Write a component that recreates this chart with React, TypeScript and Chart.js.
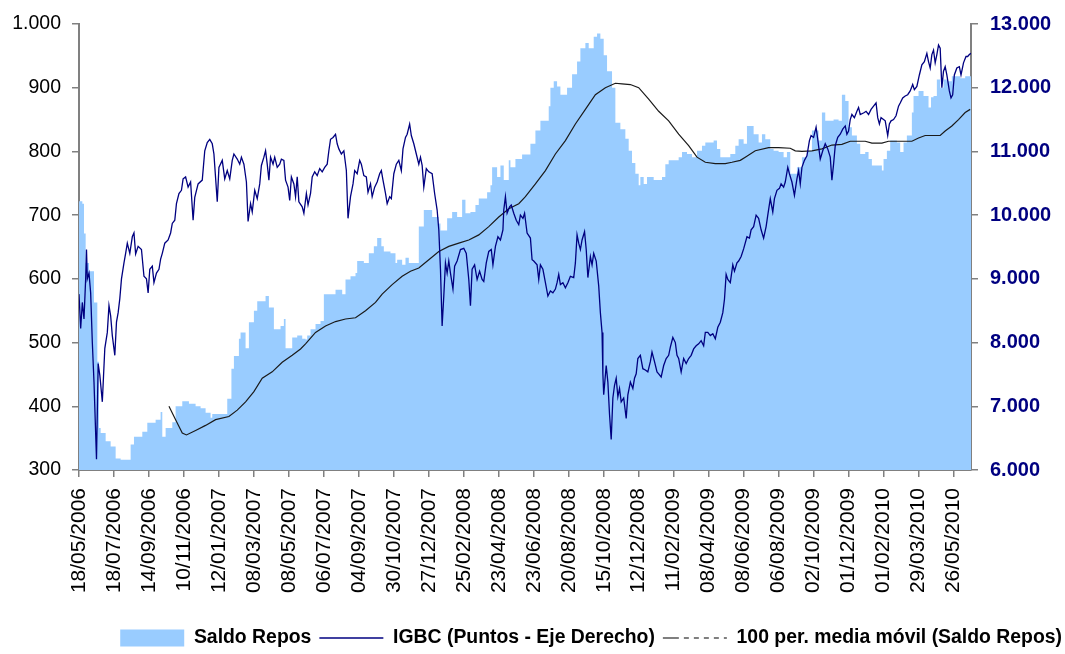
import React, { useEffect, useRef } from 'react';
import { Chart, registerables } from 'chart.js';

Chart.register(...registerables);

// X axis: trading-session index; a date label every 42 sessions
const xTickLabels = [
  '18/05/2006', '18/07/2006', '14/09/2006', '10/11/2006', '12/01/2007', '08/03/2007',
  '08/05/2007', '06/07/2007', '04/09/2007', '30/10/2007', '27/12/2007', '25/02/2008',
  '23/04/2008', '23/06/2008', '20/08/2008', '15/10/2008', '12/12/2008', '11/02/2009',
  '08/04/2009', '08/06/2009', '06/08/2009', '02/10/2009', '01/12/2009', '01/02/2010',
  '29/03/2010', '26/05/2010',
];
const SESSIONS_PER_LABEL = 42;
const LAST_SESSION = 1071;

// Saldo Repos (left axis) – [session, value], each value held until the next session listed
const reposSeries: [number, number][] = [
  [0, 722], [4, 718], [6, 671], [8, 625], [12, 612], [18, 563], [22, 470], [24, 366], [26, 358], [32, 345],
  [38, 337], [44, 318], [50, 316], [62, 340], [66, 352], [76, 360], [82, 374], [92, 379], [98, 391], [100, 352],
  [104, 366], [112, 375], [116, 400], [124, 408], [132, 404], [140, 400], [146, 397], [152, 390], [158, 382], [160, 388],
  [172, 388], [178, 412], [183, 459], [186, 479], [192, 506], [194, 516], [200, 491], [204, 532], [210, 550], [214, 565],
  [224, 573], [228, 555], [234, 521], [242, 526], [246, 537], [248, 491], [256, 508], [262, 511], [268, 506], [272, 505],
  [274, 511], [278, 521], [284, 529], [290, 534], [294, 576], [308, 583], [316, 576], [320, 599], [326, 604], [332, 609],
  [334, 628], [342, 625], [348, 640], [354, 651], [358, 664], [363, 651], [366, 643], [374, 640], [380, 625], [382, 630],
  [388, 622], [392, 633], [396, 625], [408, 682], [414, 708], [424, 697], [432, 687], [434, 676], [442, 695], [448, 705],
  [454, 697], [460, 724], [464, 703], [470, 705], [476, 716], [480, 726], [490, 736], [494, 747], [496, 775], [502, 760],
  [506, 778], [510, 755], [516, 786], [518, 775], [524, 788], [532, 795], [542, 812], [548, 833], [554, 848], [564, 871],
  [566, 900], [570, 910], [574, 902], [578, 889], [586, 900], [592, 921], [598, 941], [602, 962], [608, 970], [612, 962],
  [618, 980], [622, 985], [626, 977], [630, 951], [634, 926], [640, 900], [644, 845], [650, 835], [656, 820], [660, 801],
  [664, 782], [668, 765], [672, 747], [674, 760], [678, 749], [682, 760], [690, 755], [700, 760], [704, 780], [708, 786],
  [720, 791], [724, 799], [730, 796], [736, 791], [742, 801], [748, 809], [752, 814], [762, 817], [766, 804], [770, 791],
  [782, 796], [788, 809], [792, 819], [798, 812], [802, 840], [810, 827], [816, 814], [820, 827], [824, 819], [830, 804],
  [834, 801], [840, 799], [846, 791], [850, 799], [854, 765], [862, 775], [868, 791], [874, 801], [880, 833], [888, 817],
  [892, 861], [896, 848], [906, 850], [912, 848], [916, 889], [920, 879], [924, 838], [928, 825], [934, 812], [938, 796],
  [944, 799], [948, 788], [952, 778], [964, 770], [966, 788], [970, 801], [974, 817], [982, 814], [986, 799], [990, 814],
  [994, 825], [1000, 861], [1002, 887], [1008, 895], [1014, 887], [1020, 869], [1023, 885], [1026, 887], [1030, 913], [1034, 900],
  [1038, 913], [1042, 910], [1048, 918], [1058, 915], [1064, 918], [1071, 918],
];

// IGBC (right axis) – [session, points]
const igbcSeries: [number, number][] = [
  [0, 8760], [2, 8220], [4, 8630], [6, 8370], [8, 9000], [9, 9460], [10, 9000], [12, 9090], [14, 8780], [16, 8000],
  [18, 7380], [21, 6170], [23, 7670], [25, 7490], [28, 7070], [31, 7910], [34, 8160], [36, 8580], [38, 8420], [40, 8110],
  [43, 7800], [45, 8320], [47, 8470], [49, 8690], [51, 9000], [54, 9250], [56, 9400], [58, 9560], [61, 9400], [64, 9660],
  [66, 9720], [68, 9390], [71, 9510], [75, 9460], [78, 9040], [81, 9000], [83, 8780], [85, 9150], [88, 9200], [90, 8940],
  [93, 9090], [96, 9150], [98, 9310], [100, 9400], [103, 9560], [107, 9610], [110, 9720], [112, 9870], [115, 9920], [117, 10180],
  [120, 10340], [123, 10390], [125, 10570], [128, 10600], [131, 10440], [134, 10520], [137, 9920], [139, 10280], [143, 10490], [148, 10550],
  [151, 11010], [154, 11140], [157, 11190], [160, 11120], [162, 10960], [166, 10210], [168, 10750], [172, 10860], [175, 10570], [178, 10700],
  [181, 10570], [184, 10860], [186, 10960], [190, 10880], [193, 10800], [195, 10910], [198, 10800], [201, 10520], [203, 9900], [206, 10180],
  [208, 10050], [211, 10390], [214, 10260], [217, 10490], [219, 10780], [222, 10910], [224, 11010], [226, 10800], [228, 10550], [230, 10910],
  [233, 10800], [235, 10910], [238, 10750], [241, 10800], [243, 10880], [246, 10860], [248, 10550], [251, 10440], [253, 10230], [255, 10600],
  [258, 10490], [260, 10290], [262, 10600], [264, 10210], [268, 10130], [270, 10030], [273, 10340], [275, 10160], [278, 10340], [280, 10600],
  [283, 10680], [286, 10620], [289, 10730], [292, 10680], [295, 10750], [298, 10800], [300, 11010], [302, 11190], [305, 11220], [308, 11270],
  [310, 11120], [312, 11040], [315, 10960], [318, 11010], [321, 10700], [323, 9950], [326, 10290], [329, 10490], [331, 10700], [334, 10650],
  [337, 10860], [339, 10800], [342, 10620], [345, 10600], [347, 10360], [350, 10490], [352, 10290], [355, 10440], [358, 10520], [361, 10650],
  [363, 10700], [365, 10550], [368, 10340], [370, 10180], [373, 10290], [375, 10260], [378, 10650], [381, 10800], [384, 10860], [387, 10700],
  [389, 11040], [392, 11220], [394, 11270], [397, 11430], [399, 11250], [402, 11120], [405, 10960], [408, 10800], [410, 10910], [412, 10780],
  [414, 10440], [417, 10730], [420, 10680], [424, 10650], [427, 10340], [430, 10080], [432, 9770], [434, 9150], [436, 8260], [438, 8730],
  [440, 9250], [442, 9090], [444, 9280], [446, 9090], [449, 8840], [451, 9200], [454, 9280], [458, 9460], [462, 9480], [465, 9400],
  [468, 8990], [470, 8580], [472, 9150], [475, 9220], [478, 8990], [481, 9120], [484, 8990], [486, 8960], [489, 9250], [492, 9430],
  [495, 9460], [497, 9220], [500, 9510], [503, 9660], [506, 9610], [509, 9770], [510, 10080], [512, 10290], [514, 10030], [517, 10130],
  [519, 10160], [522, 10030], [525, 9920], [528, 9850], [530, 10000], [533, 9950], [535, 10030], [538, 9720], [542, 9640], [544, 9300],
  [546, 9280], [550, 9220], [552, 8990], [554, 9220], [557, 9150], [560, 8940], [563, 8730], [566, 8810], [569, 8780], [572, 8840],
  [574, 8940], [576, 9070], [578, 8910], [581, 8940], [584, 8860], [587, 8940], [590, 9040], [594, 9020], [596, 9250], [598, 9690],
  [600, 9560], [602, 9460], [604, 9610], [607, 9740], [609, 9460], [611, 9020], [614, 9350], [616, 9220], [618, 9400], [621, 9280],
  [624, 8890], [626, 8470], [628, 8160], [629, 7510], [630, 7180], [633, 7640], [635, 7380], [637, 6870], [639, 6480], [641, 7130],
  [643, 7330], [645, 7440], [647, 7150], [649, 7280], [651, 7070], [654, 7130], [657, 6810], [659, 7180], [662, 7380], [665, 7280],
  [667, 7440], [669, 7510], [671, 7750], [674, 7800], [677, 7590], [680, 7570], [683, 7540], [686, 7700], [688, 7850], [691, 7700],
  [694, 7540], [696, 7510], [699, 7460], [702, 7640], [705, 7750], [708, 7800], [710, 7930], [713, 8080], [716, 8000], [718, 7800],
  [720, 7750], [723, 7540], [726, 7750], [729, 7670], [732, 7750], [735, 7800], [738, 7900], [741, 7950], [744, 7980], [747, 8030],
  [750, 7950], [752, 8160], [755, 8160], [758, 8110], [761, 8140], [764, 8060], [767, 8240], [770, 8320], [773, 8470], [775, 8680],
  [777, 9070], [779, 8990], [782, 8940], [785, 9220], [787, 9120], [790, 9250], [792, 9280], [795, 9350], [798, 9470], [802, 9660],
  [805, 9640], [807, 9770], [810, 9820], [813, 10000], [816, 9950], [819, 9770], [822, 9640], [825, 9820], [827, 10000], [830, 10260],
  [833, 10050], [835, 10260], [838, 10390], [841, 10420], [843, 10490], [846, 10440], [848, 10520], [851, 10750], [853, 10650], [856, 10520],
  [859, 10310], [862, 10570], [864, 10700], [866, 10490], [868, 10750], [871, 10860], [874, 10930], [877, 11170], [879, 11250], [882, 11220],
  [885, 11380], [887, 11190], [890, 10880], [893, 11010], [896, 11120], [899, 11040], [902, 10910], [904, 10550], [906, 10800], [908, 11090],
  [911, 11220], [914, 11270], [917, 11350], [920, 11400], [922, 11270], [924, 11320], [926, 11500], [928, 11580], [931, 11530], [934, 11630],
  [936, 11690], [938, 11580], [943, 11610], [945, 11630], [948, 11580], [951, 11660], [954, 11710], [957, 11760], [959, 11530], [961, 11430],
  [963, 11530], [966, 11500], [968, 11480], [971, 11250], [973, 11430], [975, 11480], [978, 11500], [981, 11560], [984, 11710], [986, 11760],
  [989, 11840], [992, 11870], [995, 11890], [998, 11950], [1001, 12050], [1003, 11970], [1006, 12020], [1009, 12200], [1012, 12360], [1015, 12410],
  [1018, 12540], [1020, 12410], [1022, 12310], [1024, 12520], [1026, 12590], [1028, 12390], [1030, 12520], [1032, 12670], [1034, 12620], [1036, 12000],
  [1038, 12260], [1040, 12330], [1042, 12200], [1045, 11950], [1047, 11840], [1049, 11890], [1051, 12200], [1054, 12310], [1057, 12330], [1059, 12200],
  [1062, 12390], [1065, 12490], [1067, 12490], [1069, 12520], [1071, 12540],
];

// 100-period moving average of Saldo Repos (left axis) – [session, value]
const mediaMovilSeries: [number, number][] = [
  [108, 400], [116, 379], [124, 358], [129, 355], [140, 362], [152, 370], [164, 379], [180, 384], [190, 394], [200, 407],
  [210, 423], [220, 444], [232, 454], [244, 469], [256, 480], [266, 490], [272, 498], [284, 516], [296, 526], [308, 533],
  [320, 537], [332, 539], [344, 550], [356, 563], [364, 576], [376, 591], [388, 604], [398, 612], [408, 617], [420, 630],
  [432, 643], [444, 651], [456, 656], [468, 661], [480, 669], [492, 682], [504, 697], [516, 710], [528, 718], [536, 729],
  [548, 749], [560, 770], [572, 796], [584, 817], [596, 843], [608, 866], [620, 889], [632, 900], [644, 907], [652, 906],
  [662, 905], [672, 900], [684, 882], [696, 863], [708, 848], [720, 827], [732, 809], [742, 791], [752, 783], [764, 781],
  [776, 781], [784, 783], [794, 786], [800, 791], [812, 801], [828, 806], [840, 806], [854, 805], [860, 801], [868, 800],
  [880, 801], [892, 804], [904, 810], [916, 811], [926, 816], [944, 816], [952, 813], [964, 813], [972, 816], [1000, 816],
  [1008, 821], [1016, 825], [1034, 825], [1040, 832], [1048, 840], [1056, 850], [1064, 861], [1070, 866],
];

const leftMin = 300;
const leftMax = 1000;
const leftStep = 100;
const rightMin = 6000;
const rightMax = 13000;
const rightStep = 1000;

const seriesNames = ['Saldo Repos', 'IGBC (Puntos - Eje Derecho)', '100 per. media móvil (Saldo Repos)'];

const REPOS_COLOR = '#99CCFF';
const IGBC_COLOR = '#000080';
const MA_COLOR = '#1a1a1a';
const AXIS_COLOR = '#808080';
const SANS = '"Liberation Sans", Arial, Helvetica, sans-serif';

const fmtThousands = (v: number) => String(Math.round(v)).replace(/\B(?=(\d{3})+(?!\d))/g, '.');
const toXY = (s: [number, number][]) => s.map(([x, y]) => ({ x, y }));

export default function App() {
  const canvasRef = useRef<HTMLCanvasElement>(null);

  useEffect(() => {
    if (!canvasRef.current) return;
    const chart = new Chart(canvasRef.current, {
      type: 'line',
      data: {
        datasets: [
          {
            label: seriesNames[0],
            data: toXY(reposSeries),
            yAxisID: 'y',
            stepped: true,
            fill: 'start',
            backgroundColor: REPOS_COLOR,
            borderColor: 'rgba(0,0,0,0)',
            borderWidth: 0,
            pointRadius: 0,
            order: 2,
          },
          {
            label: seriesNames[1],
            data: toXY(igbcSeries),
            yAxisID: 'y1',
            borderColor: IGBC_COLOR,
            borderWidth: 1.3,
            pointRadius: 0,
            fill: false,
            tension: 0,
            order: 0,
          },
          {
            label: seriesNames[2],
            data: toXY(mediaMovilSeries),
            yAxisID: 'y',
            borderColor: MA_COLOR,
            borderWidth: 1.2,
            pointRadius: 0,
            fill: false,
            tension: 0,
            order: 1,
          },
        ],
      },
      options: {
        responsive: false,
        animation: false,
        events: [],
        layout: { padding: { top: 20, bottom: -3.7, left: 0, right: -5 } },
        scales: {
          x: {
            type: 'linear',
            min: 0,
            max: LAST_SESSION,
            afterBuildTicks: (scale: any) => {
              scale.ticks = xTickLabels.map((_, i) => ({ value: i * SESSIONS_PER_LABEL }));
            },
            afterFit: (scale: any) => {
              scale.height = 150.3;
            },
            ticks: {
              autoSkip: false,
              minRotation: 90,
              maxRotation: 90,
              padding: 11,
              color: '#000',
              font: { family: SANS, size: 21 },
              callback: (_v: any, i: number) => xTickLabels[i],
            },
            grid: { drawOnChartArea: false, drawTicks: true, tickLength: 7, color: AXIS_COLOR, lineWidth: 1.5 },
            border: { color: AXIS_COLOR, width: 2 },
            z: 1,
          },
          y: {
            position: 'left',
            min: leftMin,
            max: leftMax,
            afterFit: (scale: any) => {
              scale.width = 79;
            },
            ticks: {
              stepSize: leftStep,
              padding: 11,
              color: '#000',
              font: { family: SANS, size: 19.5 },
              callback: (v: any) => fmtThousands(Number(v)),
            },
            grid: { drawOnChartArea: false, tickLength: 7, color: AXIS_COLOR, lineWidth: 1.5 },
            border: { color: AXIS_COLOR, width: 2 },
            z: 1,
          },
          y1: {
            position: 'right',
            min: rightMin,
            max: rightMax,
            afterFit: (scale: any) => {
              scale.width = 99;
            },
            ticks: {
              stepSize: rightStep,
              padding: 12,
              color: IGBC_COLOR,
              font: { family: SANS, size: 20, weight: 'bold' },
              callback: (v: any) => fmtThousands(Number(v)),
            },
            grid: { drawOnChartArea: false, tickLength: 7, color: AXIS_COLOR, lineWidth: 1.5 },
            border: { color: AXIS_COLOR, width: 2 },
            z: 1,
          },
        },
        plugins: {
          tooltip: { enabled: false },
          legend: {
            display: true,
            position: 'bottom',
            align: 'end',
            labels: {
              usePointStyle: true,
              pointStyleWidth: 64,
              boxHeight: 17,
              padding: 8,
              color: '#000',
              font: { family: SANS, size: 19.4, weight: 'bold' },
              generateLabels: () => [
                {
                  text: seriesNames[0],
                  fillStyle: REPOS_COLOR,
                  strokeStyle: REPOS_COLOR,
                  lineWidth: 0,
                  pointStyle: 'rect',
                  datasetIndex: 0,
                  hidden: false,
                },
                {
                  text: seriesNames[1],
                  fillStyle: 'rgba(0,0,0,0)',
                  strokeStyle: IGBC_COLOR,
                  lineWidth: 1.5,
                  pointStyle: 'line',
                  datasetIndex: 1,
                  hidden: false,
                },
                {
                  text: seriesNames[2],
                  fillStyle: 'rgba(0,0,0,0)',
                  strokeStyle: '#000',
                  lineWidth: 1.2,
                  lineDash: [16, 5, 5, 5, 5, 5, 5, 5, 5, 5],
                  pointStyle: 'line',
                  datasetIndex: 2,
                  hidden: false,
                },
              ],
            },
          },
        },
      } as any,
    });
    return () => chart.destroy();
  }, []);

  return (
    <div style={{ position: 'absolute', left: 0, top: 0, width: 1065, height: 654, background: '#fff' }}>
      <canvas ref={canvasRef} width={1065} height={654} />
    </div>
  );
}
